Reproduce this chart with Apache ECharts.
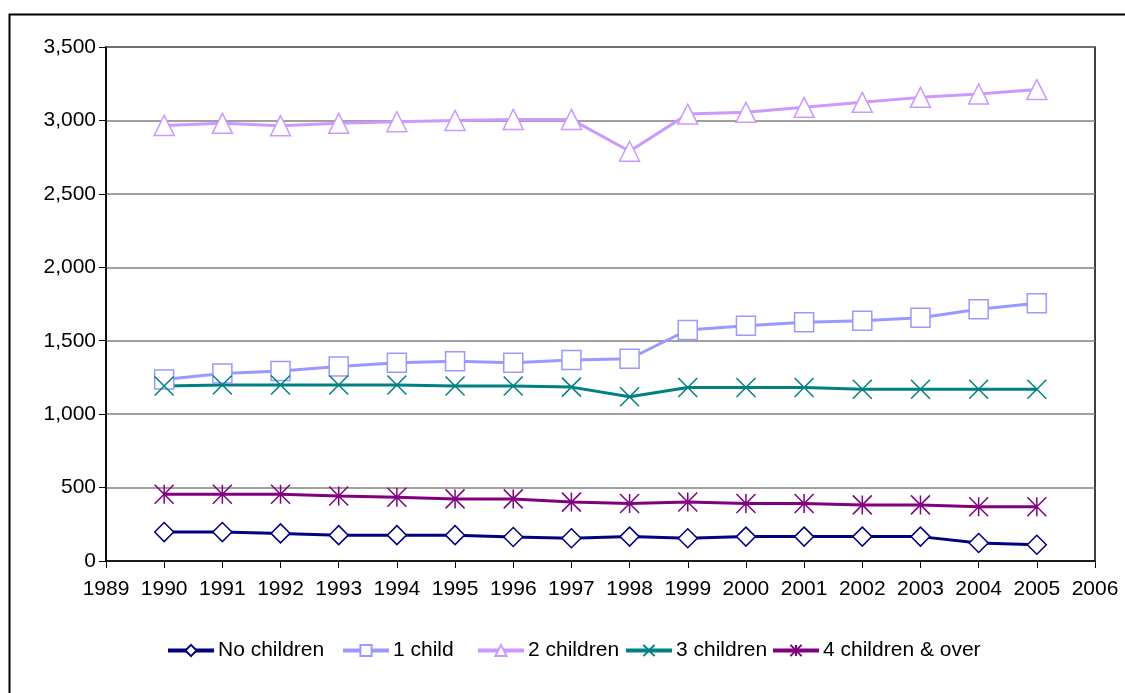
<!DOCTYPE html>
<html>
<head>
<meta charset="utf-8">
<script src="https://cdn.jsdelivr.net/npm/echarts@6/dist/echarts.min.js"></script>
<style>
html,body{margin:0;padding:0;background:#fff;}
#chart{width:1125px;height:693px;}
</style>
</head>
<body>
<div id="chart"></div>
<script>
const years = [1990,1991,1992,1993,1994,1995,1996,1997,1998,1999,2000,2001,2002,2003,2004,2005];
const noChildren = [197,197,188,176,176,176,163,155,166,155,166,166,166,166,123,111];
const oneChild = [1236,1277,1293,1325,1350,1361,1350,1368,1377,1573,1602,1625,1636,1657,1714,1755];
const twoChildren = [2966,2980,2964,2980,2991,3000,3007,3007,2790,3043,3055,3089,3123,3157,3180,3210];
const threeChildren = [1191,1198,1198,1198,1198,1191,1191,1184,1118,1182,1182,1182,1170,1170,1170,1170];
const fourChildren = [455,455,455,443,434,423,423,401,391,402,391,391,382,382,370,370];
const seriesNames = ['No children','1 child','2 children','3 children','4 children & over'];
const yTicks = {min:0, max:3500, step:500};
const xTicks = {min:1989, max:2006, step:1};

const FONT = "'Liberation Sans', Arial, sans-serif";
const pairs = arr => years.map((y,i)=>[y,arr[i]]);

const chart = echarts.init(document.getElementById('chart'), null, {renderer:'canvas'});

function lineSeries(name, data, color, symbol, size, fill){
  return {
    name: name, type:'line', data: pairs(data),
    symbol: symbol, symbolSize: size,
    lineStyle:{color:color, width:3},
    itemStyle:{color:fill, borderColor:color, borderWidth:1.5},
    emphasis:{disabled:true},
    animation:false, z:3
  };
}

const legendLefts = [166, 341, 476, 624, 771];
const legends = seriesNames.map((n,i)=>({
  data:[n], left: legendLefts[i], top: 640, orient:'horizontal', padding:0,
  itemWidth:46, itemHeight:14, itemGap:0, selectedMode:false,
  lineStyle:{width:4},
  textStyle:{fontFamily:FONT, fontSize:21, color:'#000', padding:[0,0,0,-1]}
}));

chart.setOption({
  backgroundColor:'#fff',
  animation:false,
  textStyle:{fontFamily:FONT},
  grid:{left:106, right:30, top:47, bottom:132, show:true, borderColor:'#000', borderWidth:1.5, backgroundColor:'transparent'},
  legend: legends,
  xAxis:{
    type:'value', min:xTicks.min, max:xTicks.max, interval:xTicks.step,
    axisLine:{show:true, lineStyle:{color:'#000', width:1.5}},
    axisTick:{show:true, inside:false, length:7, lineStyle:{color:'#000', width:1}},
    axisLabel:{fontFamily:FONT, fontSize:21, color:'#000', margin:18, formatter: v=>String(v)},
    splitLine:{show:false}
  },
  yAxis:{
    type:'value', min:yTicks.min, max:yTicks.max, interval:yTicks.step,
    axisLine:{show:true, lineStyle:{color:'#000', width:1.5}},
    axisTick:{show:true, inside:false, length:7, lineStyle:{color:'#000', width:1}},
    axisLabel:{fontFamily:FONT, fontSize:21, color:'#000', margin:10, formatter: v=>v.toLocaleString('en-US')},
    splitLine:{show:true, lineStyle:{color:'#808080', width:1.5}}
  },
  graphic:[{
    type:'rect', left:7, top:12, silent:true,
    shape:{x:0,y:0,width:1300,height:900},
    style:{fill:'none', stroke:'#000', lineWidth:2}, z:-1
  }],
  series:[
    lineSeries(seriesNames[0], noChildren, '#000080', 'diamond', 19, '#fff'),
    lineSeries(seriesNames[1], oneChild, '#9999FF', 'rect', 19, '#fff'),
    lineSeries(seriesNames[2], twoChildren, '#CC99FF', 'triangle', 20, '#fff'),
    lineSeries(seriesNames[3], threeChildren, '#008080', 'path://M0,0L20,20M20,0L0,20', 19, 'none'),
    lineSeries(seriesNames[4], fourChildren, '#800080', 'path://M10,0L10,20M0,0L20,20M20,0L0,20', 19, 'none')
  ]
});
</script>
</body>
</html>
